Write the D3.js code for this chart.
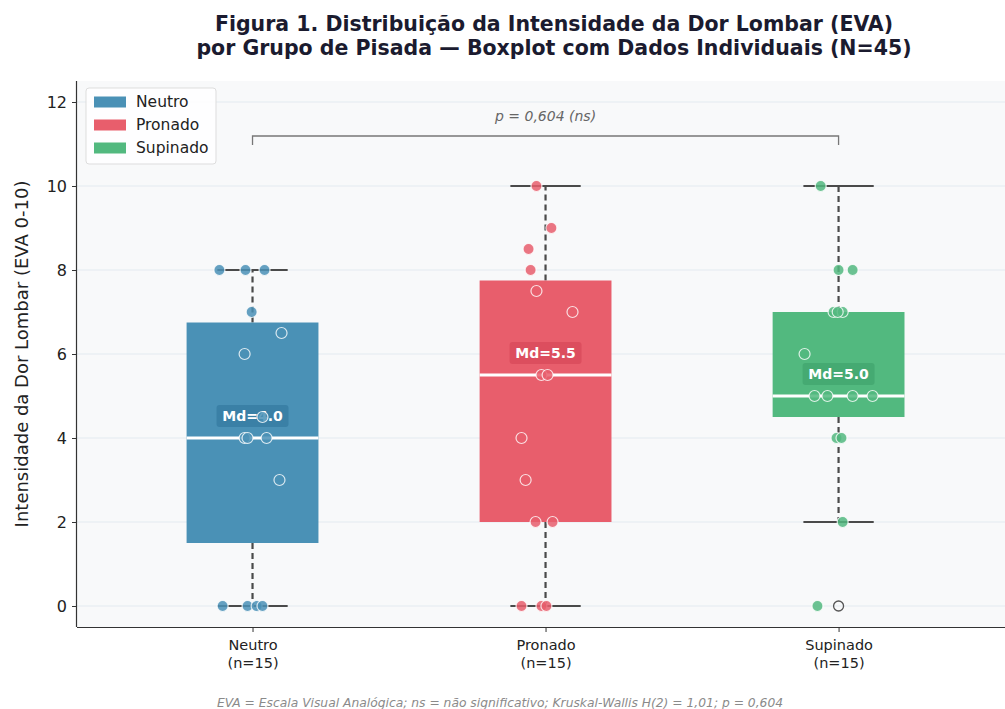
<!DOCTYPE html>
<html>
<head>
<meta charset="utf-8">
<script src="https://cdn.jsdelivr.net/npm/d3@7"></script>
<style>
  html, body { margin: 0; padding: 0; background: #ffffff; }
  svg { display: block; font-family: "DejaVu Sans", sans-serif; }
</style>
</head>
<body>
<svg id="chart" width="1005" height="709"></svg>
<script>
// Grupos de pisada e cores
const groups = ["Neutro", "Pronado", "Supinado"];
const groupColors = ["#4a91b6", "#e85e6c", "#52b97f"];
const labelColors = ["#3a80a6", "#dc4e5e", "#45aa72"];
const groupN = ["(n=15)", "(n=15)", "(n=15)"];

// Valores individuais de EVA (0-10) por grupo
const neutroValues   = [8, 8, 8, 7, 6.5, 6, 4.5, 4, 4, 4, 3, 0, 0, 0, 0];
const pronadoValues  = [10, 9, 8.5, 8, 7.5, 7, 5.5, 5.5, 4, 3, 2, 2, 0, 0, 0];
const supinadoValues = [10, 8, 8, 7, 7, 7, 6, 5, 5, 5, 5, 4, 4, 2, 0];

// Deslocamento horizontal (jitter) de cada ponto, em unidades de categoria
const neutroJitter   = [-0.113, -0.024, 0.041, -0.003, 0.099, -0.027, 0.034, -0.027, -0.017, 0.048, 0.092, -0.102, -0.017, 0.014, 0.034];
const pronadoJitter  = [-0.031, 0.020, -0.058, -0.051, -0.031, 0.092, -0.014, 0.007, -0.082, -0.068, -0.034, 0.024, -0.082, -0.014, 0.003];
const supinadoJitter = [-0.061, 0.000, 0.048, -0.017, 0.014, -0.003, -0.116, -0.082, -0.038, 0.048, 0.116, -0.007, 0.010, 0.014, -0.072];

const yTicks = [0, 2, 4, 6, 8, 10, 12];
const pText = "p = 0,604 (ns)";
const titleLines = [
  "Figura 1. Distribuição da Intensidade da Dor Lombar (EVA)",
  "por Grupo de Pisada — Boxplot com Dados Individuais (N=45)"
];
const yTitle = "Intensidade da Dor Lombar (EVA 0-10)";
const footnote = "EVA = Escala Visual Analógica; ns = não significativo; Kruskal-Wallis H(2) = 1,01; p = 0,604";

const allValues = [neutroValues, pronadoValues, supinadoValues];
const allJitter = [neutroJitter, pronadoJitter, supinadoJitter];

const svg = d3.select("#chart");
const W = 1005, H = 709;
const margin = { left: 77, right: 0, top: 81, bottom: 82 };
const plotW = W - margin.left - margin.right;
const plotH = H - margin.top - margin.bottom;

// Escalas: categorias em posições inteiras 0..2
const x = d3.scaleLinear().domain([-0.599, 2.568]).range([margin.left, W - margin.right]);
const y = d3.scaleLinear().domain([-0.5, 12.5]).range([H - margin.bottom, margin.top]);

const boxW = 0.45, capW = 0.24;

// Fundo da área de plotagem
svg.append("rect")
  .attr("x", margin.left).attr("y", margin.top)
  .attr("width", plotW).attr("height", plotH)
  .attr("fill", "#f8f9fa");

// Grade horizontal
svg.append("g").selectAll("line").data(yTicks).join("line")
  .attr("x1", margin.left).attr("x2", W - margin.right)
  .attr("y1", d => y(d)).attr("y2", d => y(d))
  .attr("stroke", "#e3eaf0").attr("stroke-width", 1);

// Estatísticas dos boxplots
const stats = allValues.map(vals => {
  const s = vals.slice().sort(d3.ascending);
  const q1 = d3.quantile(s, 0.25), med = d3.quantile(s, 0.5), q3 = d3.quantile(s, 0.75);
  const iqr = q3 - q1;
  const lo = d3.min(s.filter(v => v >= q1 - 1.5 * iqr));
  const hi = d3.max(s.filter(v => v <= q3 + 1.5 * iqr));
  const out = s.filter(v => v < lo || v > hi);
  return { q1, med, q3, lo, hi, out };
});

const gBox = svg.append("g");
stats.forEach((st, i) => {
  const g = gBox.append("g");
  // Bigodes tracejados
  g.append("line")
    .attr("x1", x(i)).attr("x2", x(i))
    .attr("y1", y(st.q1)).attr("y2", y(st.lo))
    .attr("stroke", "#4a4a4a").attr("stroke-width", 2.2).attr("stroke-dasharray", "6,4");
  g.append("line")
    .attr("x1", x(i)).attr("x2", x(i))
    .attr("y1", y(st.q3)).attr("y2", y(st.hi))
    .attr("stroke", "#4a4a4a").attr("stroke-width", 2.2).attr("stroke-dasharray", "6,4");
  // Limites
  [st.lo, st.hi].forEach(v => {
    g.append("line")
      .attr("x1", x(i - capW / 2)).attr("x2", x(i + capW / 2))
      .attr("y1", y(v)).attr("y2", y(v))
      .attr("stroke", "#4a4a4a").attr("stroke-width", 2.2);
  });
  // Caixa
  g.append("rect")
    .attr("x", x(i - boxW / 2)).attr("y", y(st.q3))
    .attr("width", x(i + boxW / 2) - x(i - boxW / 2))
    .attr("height", y(st.q1) - y(st.q3))
    .attr("fill", groupColors[i]);
  // Mediana
  g.append("line")
    .attr("x1", x(i - boxW / 2)).attr("x2", x(i + boxW / 2))
    .attr("y1", y(st.med)).attr("y2", y(st.med))
    .attr("stroke", "#ffffff").attr("stroke-width", 3);
  // Valores atípicos
  st.out.forEach(v => {
    g.append("circle")
      .attr("cx", x(i)).attr("cy", y(v)).attr("r", 5)
      .attr("fill", "none").attr("stroke", "#555").attr("stroke-width", 1.3);
  });
  // Rótulo da mediana
  const lbl = "Md=" + st.med.toFixed(1);
  const ly = y(st.med) - 22;
  const tw = 72, th = 22;
  g.append("rect")
    .attr("x", x(i) - tw / 2).attr("y", ly - th / 2)
    .attr("width", tw).attr("height", th).attr("rx", 3)
    .attr("fill", labelColors[i]);
  g.append("text")
    .attr("x", x(i)).attr("y", ly).attr("dy", "0.36em")
    .attr("text-anchor", "middle")
    .attr("font-size", 14).attr("font-weight", "bold")
    .attr("fill", "#ffffff").text(lbl);
});

// Pontos individuais
const gPts = svg.append("g");
allValues.forEach((vals, i) => {
  gPts.selectAll(null).data(vals.map((v, k) => ({ v, j: allJitter[i][k] }))).join("circle")
    .attr("cx", d => x(i + d.j)).attr("cy", d => y(d.v)).attr("r", 5.5)
    .attr("fill", groupColors[i]).attr("fill-opacity", 0.85)
    .attr("stroke", "#ffffff").attr("stroke-opacity", 0.8).attr("stroke-width", 1.2);
});

// Eixos
const yAxis = d3.axisLeft(y).tickValues(yTicks).tickSize(5).tickPadding(5).tickFormat(d3.format("d"));
const gy = svg.append("g").attr("transform", `translate(${margin.left},0)`).call(yAxis);
gy.select(".domain").attr("stroke", "#333").attr("stroke-width", 1.2).attr("d", `M-0.5,${margin.top}V${H - margin.bottom}`);
gy.selectAll(".tick line").attr("stroke", "#333");
gy.selectAll(".tick text").attr("font-size", 16).attr("fill", "#222").attr("font-family", "DejaVu Sans");

const xAxis = d3.axisBottom(x).tickValues([0, 1, 2]).tickSize(5).tickFormat(() => "");
const gx = svg.append("g").attr("transform", `translate(0,${H - margin.bottom})`).call(xAxis);
gx.select(".domain").attr("stroke", "#333").attr("stroke-width", 1.2).attr("d", `M${margin.left},0.5H${W}`);
gx.selectAll(".tick line").attr("stroke", "#333");
gx.selectAll(".tick").each(function (d) {
  const t = d3.select(this).append("text")
    .attr("fill", "#222").attr("font-size", 14.5).attr("font-family", "DejaVu Sans")
    .attr("text-anchor", "middle");
  t.append("tspan").attr("x", 0).attr("y", 23).text(groups[d]);
  t.append("tspan").attr("x", 0).attr("y", 41).text(groupN[d]);
});

// Título do eixo Y
svg.append("text")
  .attr("transform", `translate(28,${(margin.top + H - margin.bottom) / 2}) rotate(-90)`)
  .attr("text-anchor", "middle")
  .attr("font-size", 18).attr("fill", "#222").text(yTitle);

// Colchete de comparação
const by = 136;
svg.append("path")
  .attr("d", `M${x(0)},${by + 9}V${by}H${x(2)}V${by + 9}`)
  .attr("fill", "none").attr("stroke", "#777").attr("stroke-width", 1.3);
svg.append("text")
  .attr("x", x(1)).attr("y", 121)
  .attr("text-anchor", "middle").attr("font-size", 14).attr("font-style", "italic")
  .attr("fill", "#666").text(pText);

// Legenda
const leg = svg.append("g").attr("transform", "translate(86,88)");
leg.append("rect").attr("width", 130).attr("height", 76).attr("rx", 3)
  .attr("fill", "#ffffff").attr("fill-opacity", 0.85).attr("stroke", "#dddddd");
groups.forEach((gname, i) => {
  const row = leg.append("g").attr("transform", `translate(0,${14 + i * 23})`);
  row.append("rect").attr("x", 8).attr("y", -5.5).attr("width", 32).attr("height", 11).attr("fill", groupColors[i]);
  row.append("text").attr("x", 50).attr("y", 0).attr("dy", "0.35em")
    .attr("font-size", 15.5).attr("fill", "#222").text(gname);
});

// Título
svg.append("g").selectAll("text").data(titleLines).join("text")
  .attr("x", 554).attr("y", (d, k) => 31 + k * 24)
  .attr("text-anchor", "middle").attr("font-size", 20.5).attr("font-weight", "bold")
  .attr("fill", "#1b1b2f").text(d => d);

// Nota de rodapé
svg.append("text")
  .attr("x", 500).attr("y", 707)
  .attr("text-anchor", "middle").attr("font-size", 12.3).attr("font-style", "italic")
  .attr("fill", "#8a8a8a").text(footnote);
</script>
</body>
</html>
